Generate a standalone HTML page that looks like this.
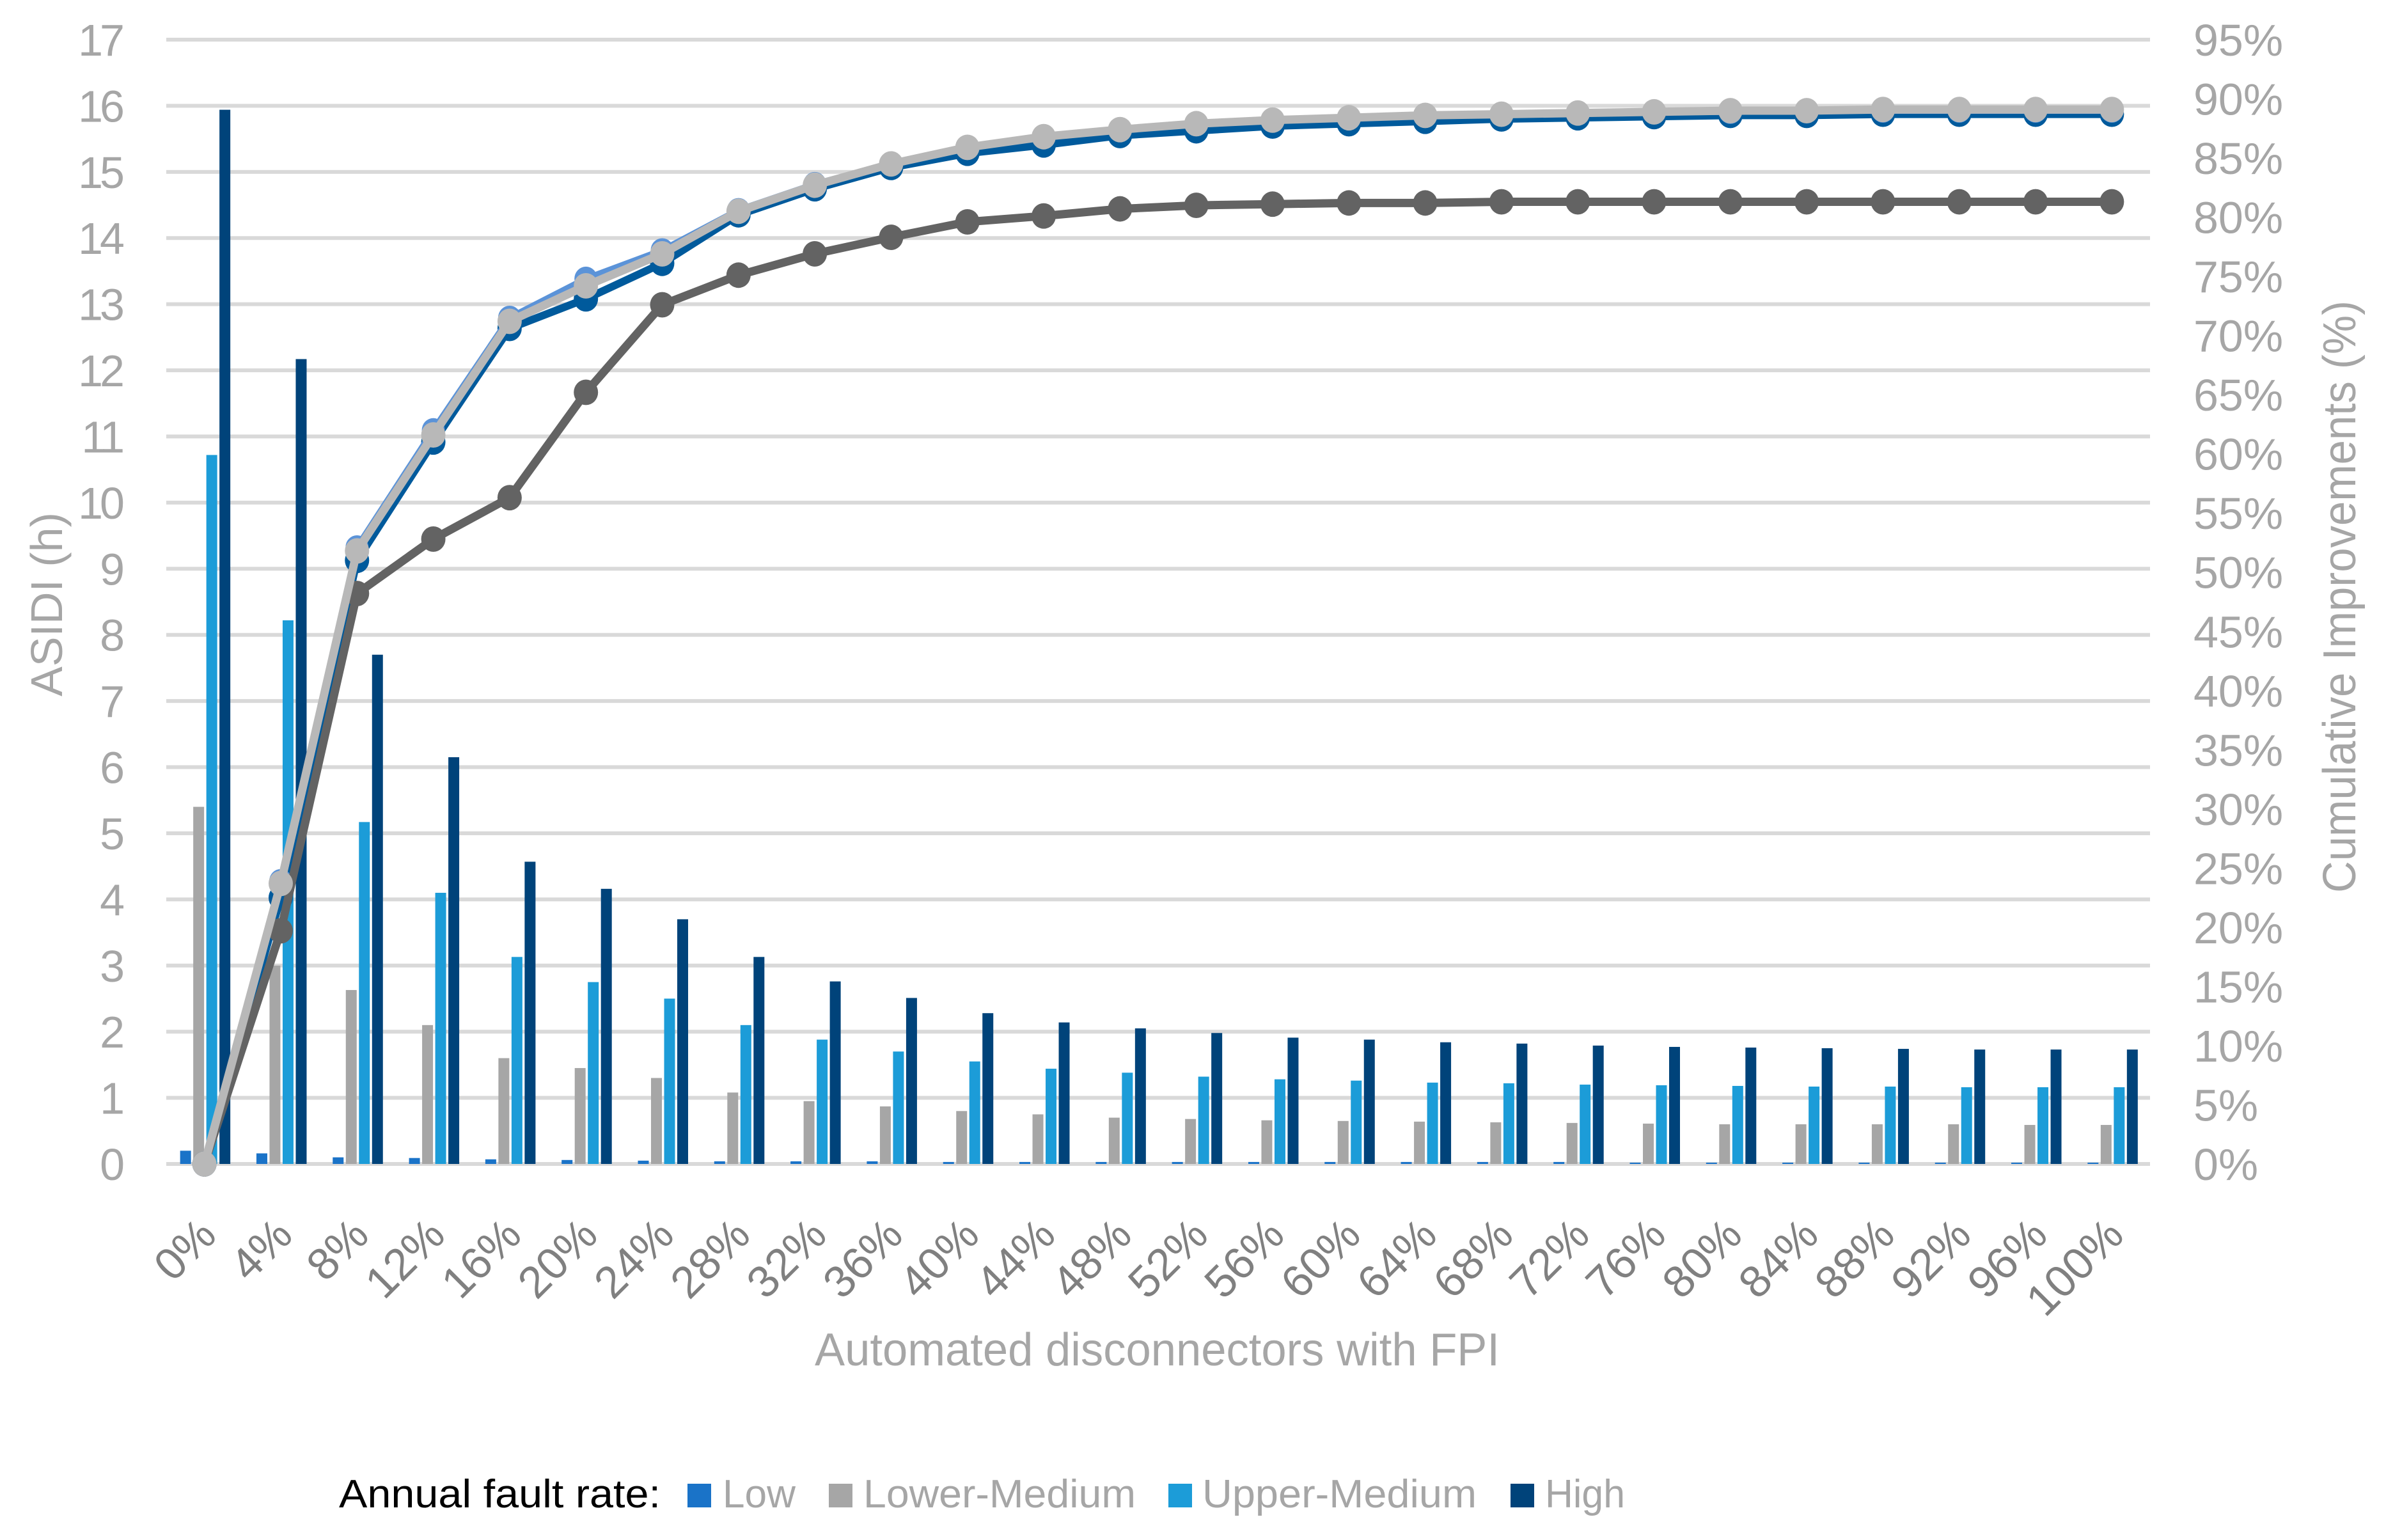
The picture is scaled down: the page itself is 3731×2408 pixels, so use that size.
<!DOCTYPE html>
<html><head><meta charset="utf-8"><style>
html,body{margin:0;padding:0;background:#fff;}
svg{display:block;font-family:"Liberation Sans",Arial,sans-serif;}
</style></head><body>
<svg id="chart" width="3731" height="2408" viewBox="0 0 3731 2408" xmlns="http://www.w3.org/2000/svg">
<g id="grid"></g>
<g id="bars"></g>
<g id="lines"></g>
<g id="yl"></g>
<g id="yr"></g>
<g id="xl"></g>
<text transform="translate(97,945) rotate(-90)" text-anchor="middle" font-size="70" fill="#a6a6a6">ASIDI (h)</text>
<text transform="translate(3683,933) rotate(-90)" text-anchor="middle" font-size="72" fill="#a6a6a6" textLength="926" lengthAdjust="spacingAndGlyphs">Cumulative Improvements (%)</text>
<text x="1274" y="2135" font-size="72" fill="#a6a6a6" textLength="1071" lengthAdjust="spacingAndGlyphs">Automated disconnectors with FPI</text>
<g>
<text x="530" y="2357" font-size="62" fill="#000" textLength="503" lengthAdjust="spacingAndGlyphs">Annual fault rate:</text>
<rect x="1075" y="2320" width="37" height="37" fill="#1a73c8"/>
<text x="1130" y="2357" font-size="62" fill="#a6a6a6" textLength="114" lengthAdjust="spacingAndGlyphs">Low</text>
<rect x="1296" y="2320" width="37" height="37" fill="#a6a6a6"/>
<text x="1350" y="2357" font-size="62" fill="#a6a6a6" textLength="426" lengthAdjust="spacingAndGlyphs">Lower-Medium</text>
<rect x="1827" y="2320" width="37" height="37" fill="#1c9cd8"/>
<text x="1880" y="2357" font-size="62" fill="#a6a6a6" textLength="429" lengthAdjust="spacingAndGlyphs">Upper-Medium</text>
<rect x="2362" y="2320" width="37" height="37" fill="#00437a"/>
<text x="2416" y="2357" font-size="62" fill="#a6a6a6" textLength="125" lengthAdjust="spacingAndGlyphs">High</text>
</g>
</svg>
<script>
const categories = ["0%","4%","8%","12%","16%","20%","24%","28%","32%","36%","40%","44%","48%","52%","56%","60%","64%","68%","72%","76%","80%","84%","88%","92%","96%","100%"];
const leftTicks = [0,1,2,3,4,5,6,7,8,9,10,11,12,13,14,15,16,17];
const rightTicks = ["0%","5%","10%","15%","20%","25%","30%","35%","40%","45%","50%","55%","60%","65%","70%","75%","80%","85%","90%","95%"];
const barLow = [0.2,0.16,0.1,0.09,0.07,0.06,0.05,0.04,0.04,0.04,0.03,0.03,0.03,0.03,0.03,0.03,0.03,0.03,0.03,0.02,0.02,0.02,0.02,0.02,0.02,0.02];
const barLowerMed = [5.4,3.0,2.63,2.1,1.6,1.45,1.3,1.08,0.95,0.87,0.8,0.75,0.7,0.68,0.66,0.65,0.64,0.63,0.62,0.61,0.6,0.6,0.6,0.6,0.59,0.59];
const barUpperMed = [10.72,8.22,5.17,4.1,3.13,2.75,2.5,2.1,1.88,1.7,1.55,1.44,1.38,1.32,1.28,1.26,1.23,1.22,1.2,1.19,1.18,1.17,1.17,1.16,1.16,1.16];
const barHigh = [15.94,12.17,7.7,6.15,4.57,4.16,3.7,3.13,2.76,2.51,2.28,2.14,2.05,1.98,1.91,1.88,1.84,1.82,1.79,1.77,1.76,1.75,1.74,1.73,1.73,1.73];
const cumLow = [0,23.9,52.1,62.0,71.5,74.8,77.2,80.6,82.8,84.5,85.9,86.8,87.4,87.9,88.2,88.4,88.6,88.7,88.8,88.9,88.9,89.0,89.0,89.0,89.0,89.0];
const cumUpperMed = [0,22.5,51.0,61.0,70.6,73.1,76.1,80.2,82.4,84.2,85.4,86.1,86.9,87.3,87.7,87.9,88.1,88.3,88.4,88.5,88.6,88.6,88.7,88.7,88.7,88.7];
const cumHigh = [0,19.7,48.2,52.8,56.3,65.2,72.6,75.1,76.9,78.3,79.6,80.1,80.7,81.0,81.1,81.2,81.2,81.3,81.3,81.3,81.3,81.3,81.3,81.3,81.3,81.3];
const cumLowerMed = [0,23.7,51.8,61.6,71.2,74.2,76.9,80.5,82.7,84.5,85.9,86.8,87.4,87.9,88.2,88.4,88.6,88.7,88.8,88.9,89.0,89.0,89.1,89.1,89.1,89.1];

const NS="http://www.w3.org/2000/svg";
const X0=260, X1=3362, Y0=1820, Y17=62;
const step=(X1-X0)/categories.length;
const xc=i=>X0+step*(i+0.5);
const yL=v=>Y0-(v/17)*(Y0-Y17);
const yR=p=>Y0-(p/95)*(Y0-Y17);
function mk(tag,parent,attrs){const e=document.createElementNS(NS,tag);for(const k in attrs)e.setAttribute(k,attrs[k]);document.getElementById(parent).appendChild(e);return e;}

leftTicks.forEach(v=>{
  const g=mk('rect','grid',{x:X0,y:yL(v)-3,width:X1-X0,height:6,fill:'#d9d9d9'});
  
  
  const t=mk('text','yl',{x:190,y:yL(v)+25,'text-anchor':'end','font-size':70,fill:'#a6a6a6','letter-spacing':'-5'});
  t.textContent=String(v);
  
  
});
rightTicks.forEach((s,i)=>{
  const t=mk('text','yr',{x:3430,y:yR(i*5)+25,'font-size':70,fill:'#a6a6a6'});
  t.textContent=s;
  
  
});
categories.forEach((c,i)=>{
  const t=mk('text','xl',{'text-anchor':'end','font-size':70,fill:'#808080',transform:`translate(${xc(i)+22},${1935}) rotate(-45)`});
  t.textContent=c;
  
  
});
const series=[[barLow,'#1a73c8','bar-low'],[barLowerMed,'#a6a6a6','bar-lower-medium'],[barUpperMed,'#1c9cd8','bar-upper-medium'],[barHigh,'#00437a','bar-high']];
series.forEach(([arr,col,name],s)=>{
  arr.forEach((v,i)=>{
    const x=xc(i)-38+s*20.5;
    const r=mk('rect','bars',{x:x,y:yL(v),width:17,height:Y0-yL(v),fill:col});
    
    
  });
});
const lines=[[cumUpperMed,'#005a9c','line-upper-medium',12,19],[cumLow,'#5b93d8','line-low',10,18],[cumHigh,'#636363','line-high',13,19],[cumLowerMed,'#b8b8b8','line-lower-medium',13,19]];
lines.forEach(([arr,col,name,w,r])=>{
  const d=arr.map((p,i)=>(i?'L':'M')+xc(i).toFixed(1)+','+yR(p).toFixed(1)).join(' ');
  const pth=mk('path','lines',{d:d,stroke:col,'stroke-width':w,fill:'none','stroke-linejoin':'round'});
  
  
  arr.forEach((p,i)=>{
    const c=mk('ellipse','lines',{cx:xc(i),cy:yR(p),rx:r,ry:r*1.05,fill:col});
    
    
  });
});
</script>
</body></html>
